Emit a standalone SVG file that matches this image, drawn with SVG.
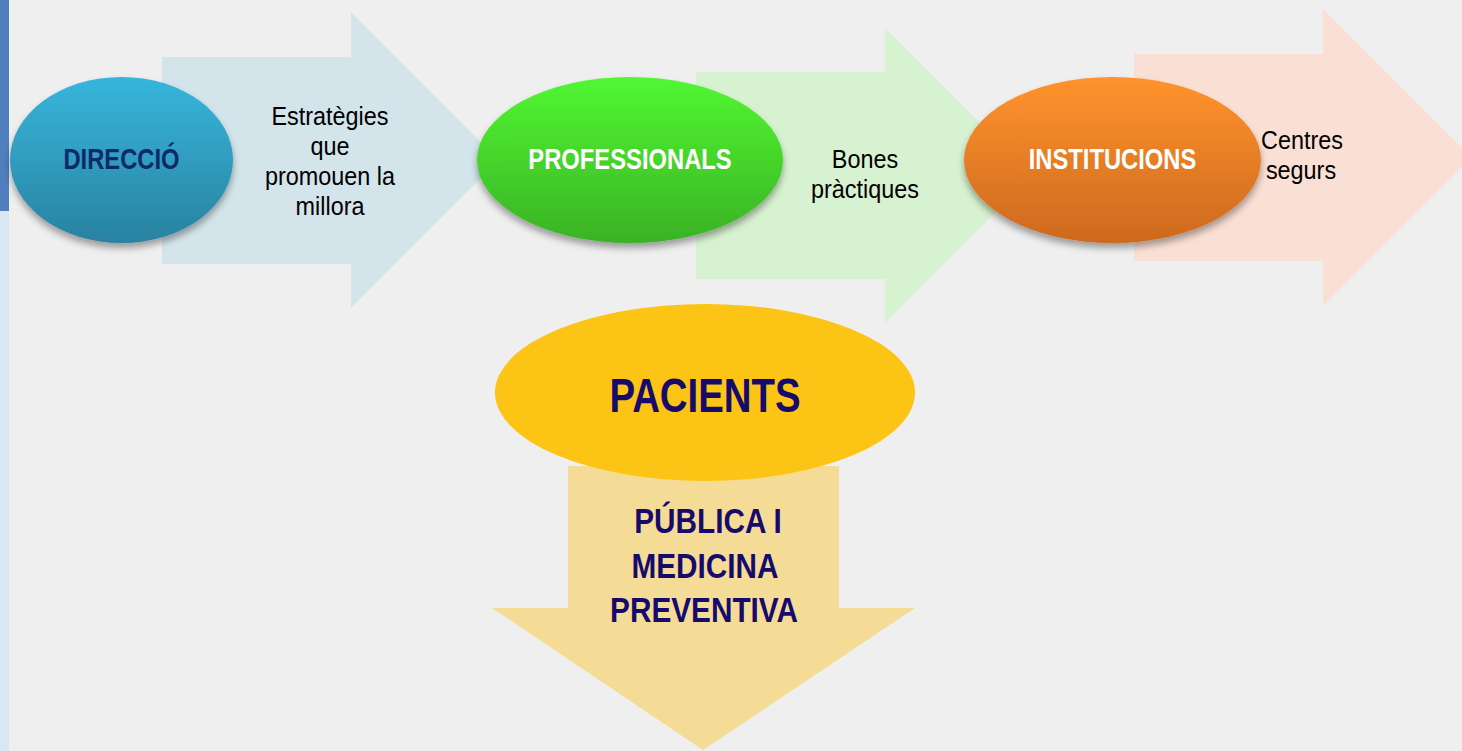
<svg xmlns="http://www.w3.org/2000/svg" width="1462" height="751" viewBox="0 0 1462 751">
  <style>
    .lbl { font-family: "Liberation Sans", Arial, sans-serif; font-weight: bold; text-anchor: middle; }
    .txt { font-family: "Liberation Sans", Arial, sans-serif; font-size: 26px; fill: #000000; text-anchor: middle; }
  </style>
  <defs>
    <linearGradient id="gBlue" x1="0" y1="0" x2="0" y2="1">
      <stop offset="0" stop-color="#36b6db"/>
      <stop offset="1" stop-color="#2a82a0"/>
    </linearGradient>
    <linearGradient id="gGreen" x1="0" y1="0" x2="0" y2="1">
      <stop offset="0" stop-color="#51f731"/>
      <stop offset="1" stop-color="#3ab226"/>
    </linearGradient>
    <linearGradient id="gOrange" x1="0" y1="0" x2="0" y2="1">
      <stop offset="0" stop-color="#ff932d"/>
      <stop offset="1" stop-color="#cd691e"/>
    </linearGradient>
    <filter id="shadow" x="-20%" y="-20%" width="140%" height="150%">
      <feDropShadow dx="0" dy="5" stdDeviation="3.5" flood-color="#000000" flood-opacity="0.35"/>
    </filter>
  </defs>

  <!-- background -->
  <rect x="0" y="0" width="1462" height="751" fill="#efefef"/>
  <rect x="0" y="0" width="9" height="211" fill="#4f80bd"/>
  <rect x="0" y="211" width="9" height="540" fill="#dae6f2"/>

  <!-- connectors (block arrows) -->
  <g id="connectors">
    <polygon id="arrow-direccio" points="162,57 351,57 351,12 499,160 351,308 351,264 162,264" fill="#d3e4eb"/>
    <polygon id="arrow-professionals" points="696,72 885,72 885,28 1032.5,175.5 885,323 885,279 696,279" fill="#d7f2d1"/>
    <polygon id="arrow-institucions" points="1134,54 1323,54 1323,9 1471.5,157.5 1323,306 1323,261 1134,261" fill="#fadfd4"/>
    <polygon id="arrow-pacients" points="568,466 839,466 839,608 915,608 703,750 492,608 568,608" fill="#f5dc96"/>
  </g>

  <!-- arrow texts -->
  <g id="text-estrategies">
    <text class="txt" transform="translate(330 125) scale(0.9 1)">Estratègies</text>
    <text class="txt" transform="translate(330 155) scale(0.9 1)">que</text>
    <text class="txt" transform="translate(330 185) scale(0.9 1)">promouen la</text>
    <text class="txt" transform="translate(330 215) scale(0.9 1)">millora</text>
  </g>
  <g id="text-bones">
    <text class="txt" transform="translate(865 168) scale(0.9 1)">Bones</text>
    <text class="txt" transform="translate(865 198) scale(0.9 1)">pràctiques</text>
  </g>
  <g id="text-centres">
    <text class="txt" transform="translate(1302 149) scale(0.9 1)">Centres</text>
    <text class="txt" transform="translate(1301 179) scale(0.9 1)">segurs</text>
  </g>
  <g id="text-publica">
    <text class="lbl" font-size="35" fill="#160b6c" transform="translate(708 533) scale(0.85 1)">PÚBLICA I</text>
    <text class="lbl" font-size="35" fill="#160b6c" transform="translate(705 578) scale(0.85 1)">MEDICINA</text>
    <text class="lbl" font-size="35" fill="#160b6c" transform="translate(704 622) scale(0.85 1)">PREVENTIVA</text>
  </g>

  <!-- nodes -->
  <g id="node-direccio">
    <ellipse cx="121.5" cy="160" rx="111.5" ry="83" fill="url(#gBlue)" filter="url(#shadow)"/>
    <text class="lbl" font-size="29" fill="#0b2a6b" transform="translate(121.5 169) scale(0.82 1)">DIRECCIÓ</text>
  </g>
  <g id="node-professionals">
    <ellipse cx="630" cy="160" rx="153" ry="83" fill="url(#gGreen)" filter="url(#shadow)"/>
    <text class="lbl" font-size="29" fill="#ffffff" transform="translate(630 169) scale(0.82 1)">PROFESSIONALS</text>
  </g>
  <g id="node-institucions">
    <ellipse cx="1112.5" cy="160" rx="148.5" ry="83" fill="url(#gOrange)" filter="url(#shadow)"/>
    <text class="lbl" font-size="29" fill="#ffffff" transform="translate(1112.5 169) scale(0.82 1)">INSTITUCIONS</text>
  </g>
  <g id="node-pacients">
    <ellipse cx="705" cy="392.5" rx="210" ry="88.5" fill="#fcc415"/>
    <text class="lbl" font-size="48" fill="#160b6c" transform="translate(705 412) scale(0.8 1)">PACIENTS</text>
  </g>
</svg>
